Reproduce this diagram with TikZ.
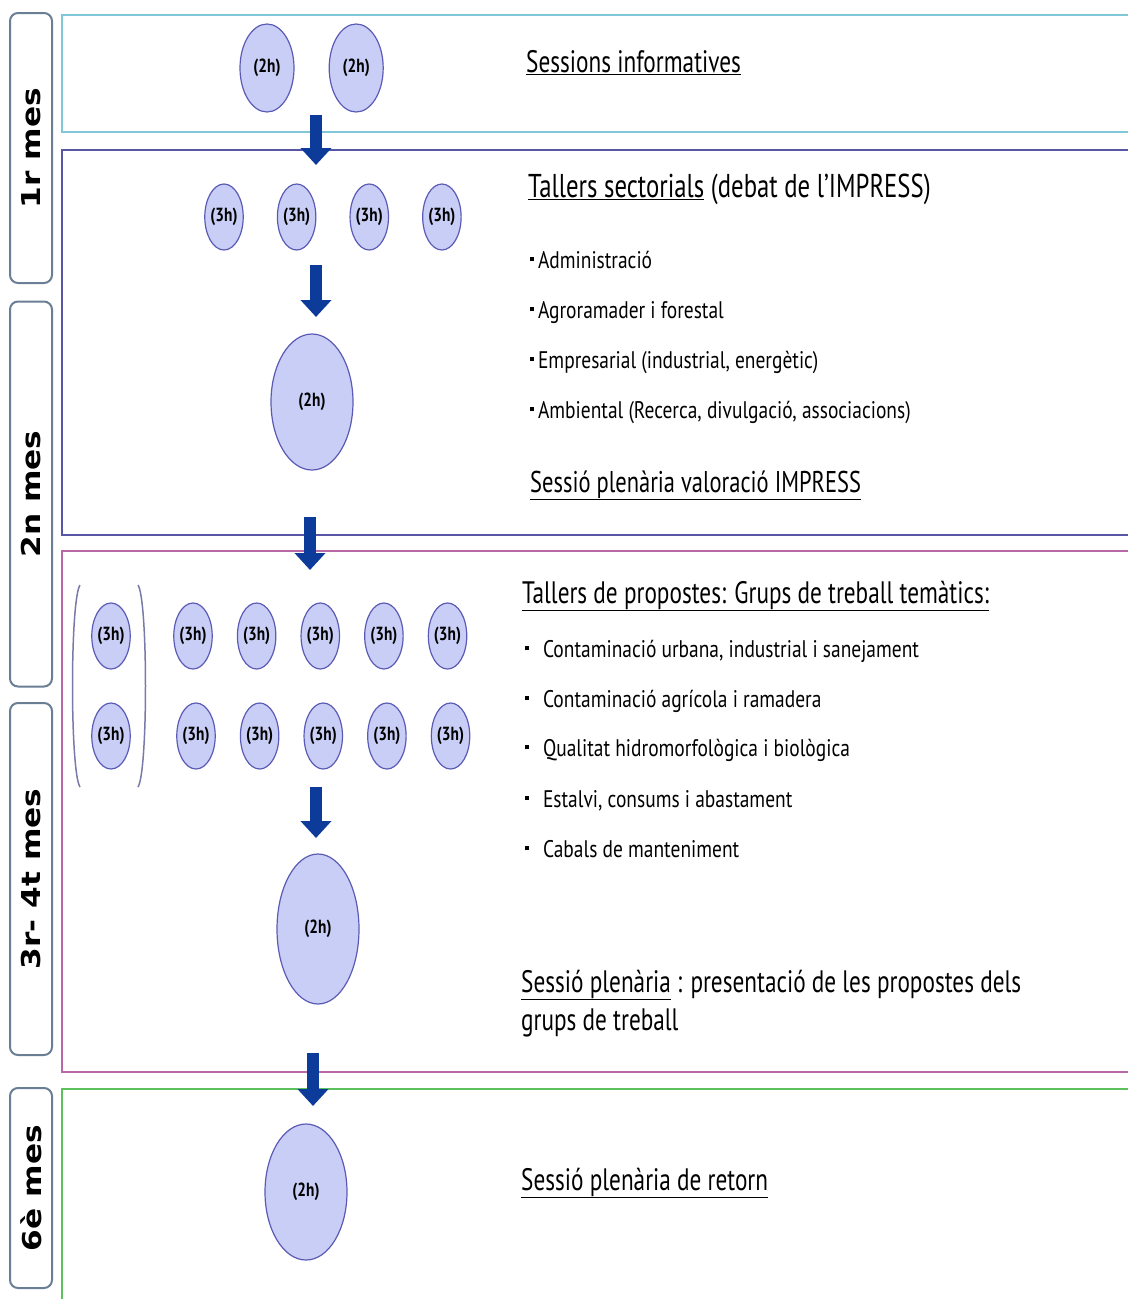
\documentclass[tikz,border=0pt]{standalone}
\usepackage{fontspec}
\setmainfont{Liberation Sans}
\newfontfamily\narrowfont[FakeStretch=0.81]{PT Sans}
\newfontfamily\headfont[FakeStretch=0.75]{PT Sans}
\newfontfamily\monthfont[FakeStretch=1.2]{DejaVu Sans}
\usetikzlibrary{positioning,shapes.geometric,arrows.meta}

\definecolor{circfill}{HTML}{C8CEF5}
\definecolor{circline}{HTML}{5B5BB5}
\definecolor{flowblue}{HTML}{0D3B99}
\definecolor{cyanline}{HTML}{80C8D8}
\definecolor{slateline}{HTML}{5A56A6}
\definecolor{plumline}{HTML}{B868A8}
\definecolor{greenline}{HTML}{5CC05C}
\definecolor{monthline}{HTML}{6A7F95}
\definecolor{parenline}{HTML}{7A7AA8}

\newcommand\sqbullet{\raisebox{0.28em}{\rule{0.16em}{0.16em}}}

\tikzset{
  hours/.style={ellipse, draw=circline, fill=circfill, line width=1.2pt, inner sep=0pt,
    font=\narrowfont\bfseries\fontsize{19}{19}\selectfont},
  small/.style={hours, minimum width=38pt, minimum height=66pt},
  mid/.style={hours, minimum width=54pt, minimum height=88pt},
  big/.style={hours, minimum width=82pt, minimum height=136pt},
  month/.style={draw=monthline, line width=2pt, rounded corners=8pt, rotate=90,
    minimum height=42pt, inner sep=0pt, font=\monthfont\bfseries\fontsize{26}{26}\selectfont},
  stage/.style={line width=2pt},
  flow/.style={draw=flowblue, line width=12pt, -{Triangle[width=30pt,length=17pt]}},
  head/.style={anchor=base west, inner sep=0pt, font=\headfont\fontsize{31}{31}\selectfont},
  item/.style={anchor=base west, inner sep=0pt, font=\narrowfont\fontsize{24}{24}\selectfont},
}

\begin{document}
\begin{tikzpicture}[x=1pt,y=-1pt]
  \useasboundingbox (0,0) rectangle (1128,1299);

  \node[month, minimum width=270pt] (m1) at (31,148) {1r mes};
  \node[month, minimum width=385pt] (m2) at (31,494) {2n mes};
  \node[month, minimum width=352pt] (m3) at (31,879) {3r- 4t mes};
  \node[month, minimum width=200pt] (m4) at (31,1188) {6è mes};

  \draw[stage, draw=cyanline] (1128,15) -- (62,15) -- (62,132) -- (1128,132);
  \draw[stage, draw=slateline] (1128,150) -- (62,150) -- (62,535) -- (1128,535);
  \draw[stage, draw=plumline] (1128,551) -- (62,551) -- (62,1072) -- (1128,1072);
  \draw[stage, draw=greenline] (1128,1089) -- (62,1089) -- (62,1299);

  \node[mid] (s1) at (267,68) {(2h)};
  \node[mid, right=34pt of s1] (s2) {(2h)};
  \node[head] (info) at (526,72) {\underline{Sessions informatives}};

  \node[small] (t1) at (224,217) {(3h)};
  \node[small, right=33pt of t1] (t2) {(3h)};
  \node[small, right=33pt of t2] (t3) {(3h)};
  \node[small, right=33pt of t3] (t4) {(3h)};
  \node[big] (p2) at (312,402) {(2h)};

  \node[head, font=\headfont\fontsize{33}{33}\selectfont] (sect) at (528,197)
    {\underline{Tallers sectorials} (debat de l’IMPRESS)};
  \node[item] (i1) at (530,268) {\sqbullet\,Administració};
  \node[item] (i2) at (530,318) {\sqbullet\,Agroramader i forestal};
  \node[item] (i3) at (530,368) {\sqbullet\,Empresarial (industrial, energètic)};
  \node[item] (i4) at (530,418) {\sqbullet\,Ambiental (Recerca, divulgació, associacions)};
  \node[head, font=\headfont\fontsize{30}{30}\selectfont] (val) at (530,492)
    {\underline{Sessió plenària valoració IMPRESS}};

  \node[small] (g0) at (111,636) {(3h)};
  \node[small] (g1) at (193,636) {(3h)};
  \node[small, right=24pt of g1] (g2) {(3h)};
  \node[small, right=24pt of g2] (g3) {(3h)};
  \node[small, right=24pt of g3] (g4) {(3h)};
  \node[small, right=24pt of g4] (g5) {(3h)};
  \node[small] (h0) at (111,736) {(3h)};
  \node[small] (h1) at (196,736) {(3h)};
  \node[small, right=24pt of h1] (h2) {(3h)};
  \node[small, right=24pt of h2] (h3) {(3h)};
  \node[small, right=24pt of h3] (h4) {(3h)};
  \node[small, right=24pt of h4] (h5) {(3h)};
  \node[big, minimum height=150pt] (p3) at (318,929) {(2h)};

  \draw[parenline, line width=1.5pt] (80,585) .. controls (70,600) and (70,772) .. (80,787);
  \draw[parenline, line width=1.5pt] (138,585) .. controls (148,600) and (148,772) .. (138,787);

  \node[head] (prop) at (522,603) {\underline{Tallers de propostes: Grups de treball temàtics:}};
  \node[item] (k1) at (525,657) {\sqbullet\hspace{14pt}Contaminació urbana, industrial i sanejament};
  \node[item] (k2) at (525,707) {\sqbullet\hspace{14pt}Contaminació agrícola i ramadera};
  \node[item] (k3) at (525,756) {\sqbullet\hspace{14pt}Qualitat hidromorfològica i biològica};
  \node[item] (k4) at (525,807) {\sqbullet\hspace{14pt}Estalvi, consums i abastament};
  \node[item] (k5) at (525,857) {\sqbullet\hspace{14pt}Cabals de manteniment};
  \node[head] (pres) at (521,992) {\underline{Sessió plenària} : presentació de les propostes dels};
  \node[head] (pres2) at (521,1030) {grups de treball};

  \node[big] (p4) at (306,1192) {(2h)};
  \node[head] (ret) at (521,1190) {\underline{Sessió plenària de retorn}};

  \coordinate (a1) at (316,115);  \coordinate (b1) at (316,165);
  \coordinate (a2) at (316,265);  \coordinate (b2) at (316,317);
  \coordinate (a3) at (310,517);  \coordinate (b3) at (310,570);
  \coordinate (a4) at (316,787);  \coordinate (b4) at (316,838);
  \coordinate (a5) at (313,1053); \coordinate (b5) at (313,1106);
  \draw[flow] (a1) -- (b1);
  \draw[flow] (a2) -- (b2);
  \draw[flow] (a3) -- (b3);
  \draw[flow] (a4) -- (b4);
  \draw[flow] (a5) -- (b5);

\end{tikzpicture}
\end{document}
